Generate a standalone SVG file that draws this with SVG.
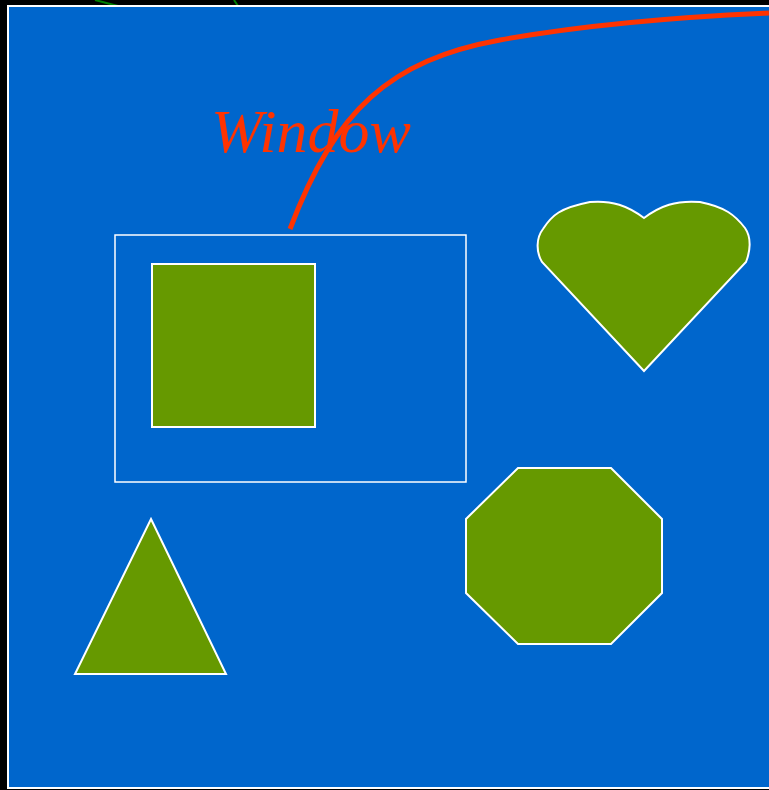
<svg xmlns="http://www.w3.org/2000/svg" width="769" height="790" viewBox="0 0 769 790">
<style>
.shape{fill:#669900;stroke:#ffffff;stroke-width:2}
.frame{fill:none;stroke:#ffffff;stroke-width:1.5}
</style>
<rect x="0" y="0" width="769" height="790" fill="#000000"/>
<g id="connectors">
<path d="M95,0 L118,6" stroke="#008000" stroke-width="2" fill="none"/>
<path d="M234,0 L238,6" stroke="#008000" stroke-width="2" fill="none"/>
</g>
<rect id="background" x="8" y="6" width="770" height="782" fill="#0066cc" stroke="#ffffff" stroke-width="2"/>
<g id="window">
<rect class="frame" x="115" y="235" width="351" height="247"/>
<text x="211" y="152" font-family="'Liberation Serif', 'Times New Roman', serif" font-style="italic" font-size="62" fill="#ff3300">Window</text>
<path d="M290,229 C335,110 390,60 500,40 C600,22 700,16 769,13" fill="none" stroke="#ff3300" stroke-width="5"/>
</g>
<g id="square"><rect class="shape" x="152" y="264" width="163" height="163"/></g>
<g id="heart"><path class="shape" d="M644,371 L542,262 C536,252 536,238 543,229 C552,215 560,208 590,202 C612,200 628,206 644,218 C660,206 676,200 700,202 C725,207 735,215 745,228 C752,238 750,252 746,262 Z"/></g>
<g id="triangle"><polygon class="shape" points="151,519 226,674 75,674"/></g>
<g id="octagon"><polygon class="shape" points="518,468 611,468 662,519 662,593 611,644 518,644 466,593 466,519"/></g>
</svg>
